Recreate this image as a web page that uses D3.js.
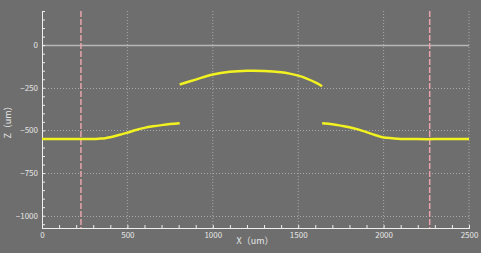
<!DOCTYPE html>
<html>
<head>
<meta charset="utf-8">
<script src="https://cdn.jsdelivr.net/npm/d3@7"></script>
<style>
  body { margin: 0; background: #6e6e6e; }
  svg { display: block; }
</style>
</head>
<body>
<div id="chart"></div>
<script>
// Profile data (X in um, Z in um)
const leftX  = [0, 100, 200, 300, 340, 370, 400, 450, 500, 550, 600, 650, 700, 750, 806];
const leftZ  = [-550, -550, -550, -550, -548, -546, -540, -527, -513, -498, -485, -476, -469, -463, -458];
const midX   = [806, 900, 1000, 1100, 1200, 1300, 1400, 1450, 1500, 1550, 1600, 1640];
const midZ   = [-231, -202, -172, -156, -150, -151, -159, -167, -179, -196, -218, -241];
const rightX = [1640, 1700, 1750, 1800, 1850, 1900, 1950, 2000, 2050, 2100, 2200, 2300, 2400, 2500];
const rightZ = [-458, -464, -472, -481, -494, -510, -527, -541, -546, -550, -551, -551, -551, -551];

// reference lines (dashed) and axis ticks
const markerX = [228, 2270];
const xTicks = [0, 500, 1000, 1500, 2000, 2500];
const yTicks = [0, -250, -500, -750, -1000];

const width = 481, height = 253;
const margin = { top: 11, right: 12, bottom: 25, left: 42 };

const svg = d3.select('#chart')
  .append('svg')
  .attr('width', width)
  .attr('height', height)
  .style('background', '#6e6e6e');

const xScale = d3.scaleLinear()
  .domain([0, 2500])
  .range([margin.left, width - margin.right]);

const yScale = d3.scaleLinear()
  .domain([-1072, 200])
  .range([height - margin.bottom, margin.top]);

const gridColor = '#a8a8a8';
const font = "'Noto Sans CJK SC', 'DejaVu Sans', sans-serif";

// grid lines
svg.append('g')
  .selectAll('line')
  .data(xTicks.filter(d => d > 0))
  .join('line')
  .attr('x1', d => xScale(d)).attr('x2', d => xScale(d))
  .attr('y1', yScale.range()[1]).attr('y2', yScale.range()[0])
  .attr('stroke', gridColor)
  .attr('stroke-width', 1)
  .attr('stroke-dasharray', '1,2');

svg.append('g')
  .selectAll('line')
  .data(yTicks.filter(d => d !== 0))
  .join('line')
  .attr('x1', xScale.range()[0]).attr('x2', xScale.range()[1])
  .attr('y1', d => Math.round(yScale(d)) + 0.5).attr('y2', d => Math.round(yScale(d)) + 0.5)
  .attr('stroke', gridColor)
  .attr('stroke-width', 1)
  .attr('stroke-dasharray', '1,2');

// zero line
svg.append('line')
  .attr('x1', xScale.range()[0]).attr('x2', xScale.range()[1])
  .attr('y1', Math.round(yScale(0)) + 0.5).attr('y2', Math.round(yScale(0)) + 0.5)
  .attr('stroke', '#b8b8b8')
  .attr('stroke-width', 1.5);

// axes (ticks inward)
const xaxis = svg.append('g')
  .attr('transform', `translate(0,${yScale.range()[0]})`)
  .call(d3.axisBottom(xScale).tickValues(d3.range(0, 2501, 100)).tickSize(-3).tickFormat(''));
xaxis.append('g')
  .call(d3.axisBottom(xScale).tickValues(xTicks).tickSize(0).tickPadding(4).tickFormat(d3.format('d')));

const yaxis = svg.append('g')
  .attr('transform', `translate(${margin.left},0)`)
  .call(d3.axisLeft(yScale).tickValues(d3.range(-1050, 201, 50)).tickSize(-3).tickFormat(''));
yaxis.append('g')
  .call(d3.axisLeft(yScale).tickValues(yTicks).tickSize(0).tickPadding(4)
    .tickFormat(d => d < 0 ? '\u2212' + Math.abs(d) : d));

svg.selectAll('.domain').attr('stroke', '#eeeeee');
svg.selectAll('.tick line').attr('stroke', '#eeeeee');
svg.selectAll('.tick text')
  .attr('fill', '#e6e6e6')
  .style('font-family', font)
  .style('font-size', '8px');

// dashed markers
svg.append('g')
  .selectAll('line')
  .data(markerX)
  .join('line')
  .attr('x1', d => xScale(d)).attr('x2', d => xScale(d))
  .attr('y1', yScale.range()[1]).attr('y2', yScale.range()[0])
  .attr('stroke', '#e8a4ae')
  .attr('stroke-width', 1.5)
  .attr('stroke-dasharray', '6,2');

// profile segments
const line = d3.line()
  .x(d => xScale(d[0]))
  .y(d => yScale(d[1]))
  .curve(d3.curveCatmullRom);

[[leftX, leftZ], [midX, midZ], [rightX, rightZ]].forEach(([xs, zs]) => {
  svg.append('path')
    .datum(xs.map((x, i) => [x, zs[i]]))
    .attr('d', line)
    .attr('fill', 'none')
    .attr('stroke', '#f2f220')
    .attr('stroke-width', 2.5);
});

// axis labels
svg.append('text')
  .text('X（um）')
  .attr('x', 255)
  .attr('y', 244)
  .attr('text-anchor', 'middle')
  .attr('fill', '#e6e6e6')
  .style('font-family', font)
  .style('font-size', '9px');

svg.append('text')
  .text('Z（um）')
  .attr('transform', 'rotate(-90)')
  .attr('x', -120)
  .attr('y', 11)
  .attr('text-anchor', 'middle')
  .attr('fill', '#e6e6e6')
  .style('font-family', font)
  .style('font-size', '9px');
</script>
</body>
</html>
